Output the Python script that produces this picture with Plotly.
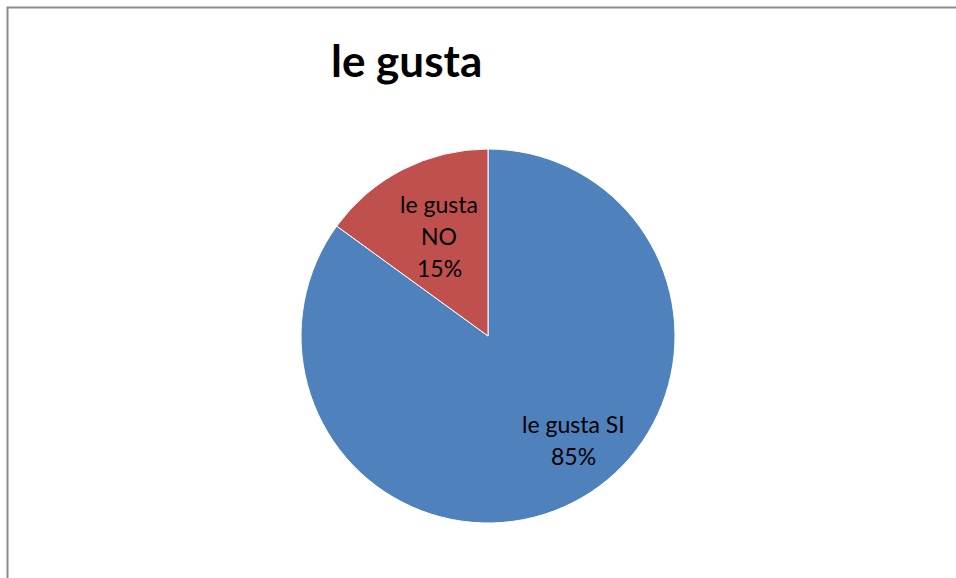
import math
import plotly.graph_objects as go

labels = ["le gusta SI", "le gusta NO"]
label_lines = [["le gusta SI"], ["le gusta", "NO"]]
values = [85, 15]
colors = ["#4F81BD", "#C0504D"]
title = "le gusta"

W, H = 956, 578
cx, cy, r = 488, 336, 187
# label placement style: (angle offset from slice middle in degrees, radial fraction)
label_style = [(-12.6, 0.72), (0.9, 0.595)]
FONT = "Lato, Carlito, Calibri, sans-serif"
LINE_GAP = 32

fig = go.Figure(go.Pie(
    labels=labels,
    values=values,
    textinfo="none",
    marker=dict(colors=colors, line=dict(color="white", width=1)),
    sort=False,
    direction="clockwise",
    rotation=0,
    showlegend=False,
    hoverinfo="label+percent",
    domain=dict(x=[(cx - r) / W, (cx + r) / W], y=[1 - (cy + r) / H, 1 - (cy - r) / H]),
))

annotations = [dict(text="<b>" + title + "</b>", xref="paper", yref="paper",
                    x=406 / W, y=1 - 60 / H, xanchor="center", yanchor="middle",
                    showarrow=False, font=dict(family=FONT, size=44, color="black"))]

total = sum(values)
cum = 0
for v, lines, (dang, rf) in zip(values, label_lines, label_style):
    mid = (cum + v / 2) / total * 360 + dang
    cum += v
    a = math.radians(mid)
    px = cx + rf * r * math.sin(a)
    py = cy - rf * r * math.cos(a)
    all_lines = lines + [f"{round(v / total * 100)}%"]
    n = len(all_lines)
    for i, t in enumerate(all_lines):
        off = (i - (n - 1) / 2) * LINE_GAP
        annotations.append(dict(text=t, xref="paper", yref="paper",
                                x=px / W, y=1 - (py + off) / H,
                                xanchor="center", yanchor="middle", showarrow=False,
                                font=dict(family=FONT, size=23, color="black")))

fig.update_layout(
    width=W, height=H,
    margin=dict(l=0, r=0, t=0, b=0),
    paper_bgcolor="white",
    plot_bgcolor="white",
    shapes=[dict(type="rect", xref="paper", yref="paper",
                 x0=7.5 / W, y0=-0.1, x1=1.1, y1=1 - 7.5 / H,
                 line=dict(color="#8C8C8C", width=2), fillcolor="rgba(0,0,0,0)")],
    annotations=annotations,
)

fig.write_html("out.html")
